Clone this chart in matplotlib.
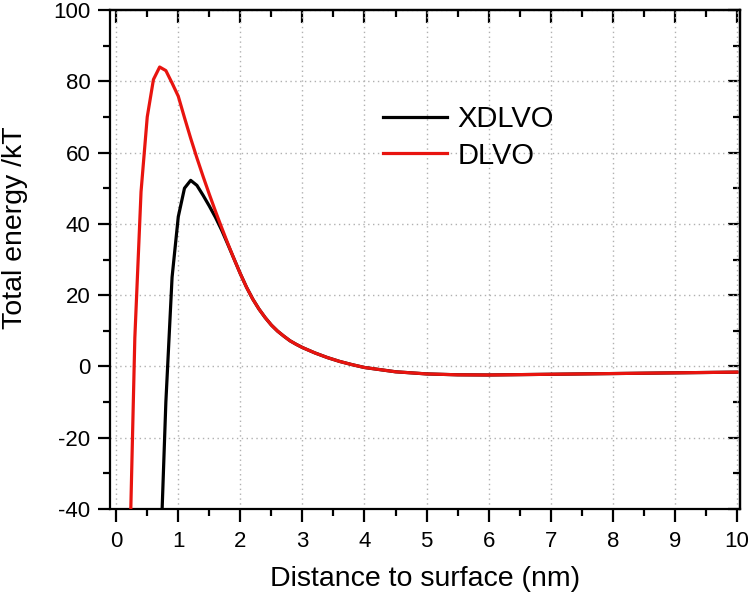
import matplotlib
matplotlib.use("Agg")
import matplotlib.pyplot as plt
from matplotlib.ticker import MultipleLocator

plt.rcParams['font.family'] = ['Liberation Sans', 'DejaVu Sans']
plt.rcParams['axes.unicode_minus'] = False

# DLVO curve
dlvo_x = [0.2, 0.3, 0.4, 0.5, 0.6, 0.7, 0.8, 0.9, 1.0, 1.1, 1.2, 1.3, 1.4, 1.5,
          1.6, 1.7, 1.8, 1.9, 2.0, 2.1, 2.2, 2.3, 2.4, 2.5, 2.6, 2.7, 2.8, 2.9,
          3.0, 3.2, 3.4, 3.6, 3.8, 4.0, 4.5, 5.0, 5.5, 6.0, 7.0, 8.0, 9.0, 10.0]
dlvo_y = [-66, 8, 49, 70, 80.5, 84, 83, 79.5, 75.8, 69.8, 64.0, 58.5, 53.3, 48.3,
          43.5, 38.9, 34.4, 30.1, 26.0, 22.2, 18.9, 16.1, 13.7, 11.6, 9.9, 8.5, 7.2, 6.2,
          5.3, 3.8, 2.5, 1.4, 0.5, -0.3, -1.5, -2.1, -2.35, -2.4, -2.2, -2.0, -1.8, -1.6]

# XDLVO curve
xdlvo_x = [0.7, 0.8, 0.9, 1.0, 1.1, 1.2, 1.3, 1.4, 1.5, 1.6, 1.7, 1.8, 1.9,
           2.0, 2.1, 2.2, 2.3, 2.4, 2.5, 2.6, 2.7, 2.8, 2.9,
           3.0, 3.2, 3.4, 3.6, 3.8, 4.0, 4.5, 5.0, 5.5, 6.0, 7.0, 8.0, 9.0, 10.0]
xdlvo_y = [-60, -10, 25, 42, 50, 52.2, 50.8, 48.0, 45.0, 41.8, 38.2, 34.2, 30.1,
           26.0, 22.2, 18.9, 16.1, 13.7, 11.6, 9.9, 8.5, 7.2, 6.2,
           5.3, 3.8, 2.5, 1.4, 0.5, -0.3, -1.5, -2.1, -2.35, -2.4, -2.2, -2.0, -1.8, -1.6]

fig = plt.figure(figsize=(7.5, 6), dpi=100)
ax = fig.add_axes([110/750, 91/600, 630/750, 499/600])

ax.plot(xdlvo_x, xdlvo_y, color='black', lw=2.3, label='XDLVO', zorder=3)
ax.plot(dlvo_x, dlvo_y, color='#e8140f', lw=2.3, label='DLVO', zorder=4)

ax.set_xlim(-0.1, 10.05)
ax.set_ylim(-40, 100)

ax.xaxis.set_major_locator(MultipleLocator(1))
ax.xaxis.set_minor_locator(MultipleLocator(0.5))
ax.yaxis.set_major_locator(MultipleLocator(20))
ax.yaxis.set_minor_locator(MultipleLocator(10))

ax.grid(True, which='major', linestyle=(0, (1, 2.5)), color='#b0b0b0', lw=1)

for s in ax.spines.values():
    s.set_linewidth(1.6)

ax.tick_params(which='major', direction='out', length=9, width=1.6, labelsize=16)
ax.tick_params(axis='x', which='major', pad=7)
ax.tick_params(axis='y', which='major', pad=5)
ax.tick_params(which='minor', direction='out', length=5, width=1.6)

secx = ax.secondary_xaxis('top')
secx.xaxis.set_major_locator(MultipleLocator(1))
secx.xaxis.set_minor_locator(MultipleLocator(0.5))
secx.tick_params(which='major', direction='in', length=9, width=1.6, labeltop=False)
secx.tick_params(which='minor', direction='in', length=5, width=1.6)
secx.spines['top'].set_linewidth(1.6)

secy = ax.secondary_yaxis('right')
secy.yaxis.set_major_locator(MultipleLocator(20))
secy.yaxis.set_minor_locator(MultipleLocator(10))
secy.tick_params(which='major', direction='in', length=9, width=1.6, labelright=False)
secy.tick_params(which='minor', direction='in', length=5, width=1.6)
secy.spines['right'].set_linewidth(1.6)

ax.set_xlabel('Distance to surface (nm)', fontsize=20.5)
ax.set_ylabel('Total energy /kT', fontsize=20.5)
ax.xaxis.set_label_coords(0.5, -0.115)
ax.yaxis.set_label_coords(-0.13, 0.563)

ax.legend(loc='upper left', bbox_to_anchor=(0.433, 0.81), frameon=False,
          fontsize=21, handlelength=2.2, handletextpad=0.35, labelspacing=0.3,
          borderpad=0, borderaxespad=0)

fig.savefig('out.png', dpi=100)
